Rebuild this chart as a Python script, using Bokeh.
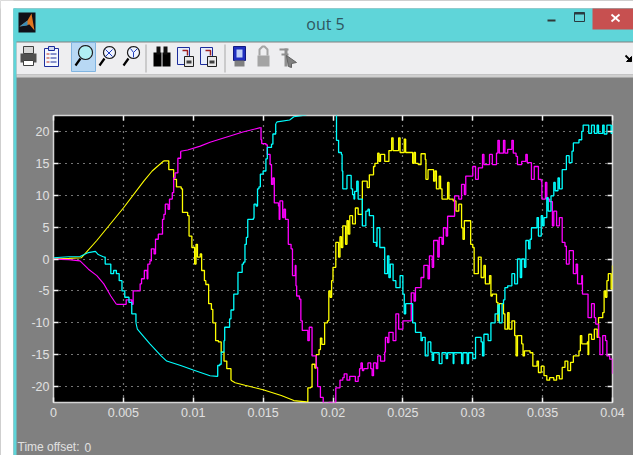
import math
from bokeh.plotting import figure
from bokeh.core.properties import value
from bokeh.models import FixedTicker, LinearAxis, Range1d
from bokeh.embed import file_html
from bokeh.resources import INLINE

# ------- data (time s, value) -------
x_ticks = [0, 0.005, 0.01, 0.015, 0.02, 0.025, 0.03, 0.035, 0.04]
x_labels = ["0", "0.005", "0.01", "0.015", "0.02", "0.025", "0.03", "0.035", "0.04"]
y_ticks = [-20, -15, -10, -5, 0, 5, 10, 15, 20]
y_labels = ["-20", "-15", "-10", "-5", "0", "5", "10", "15", "20"]

yellow_ramp = [(0,0),(.0011,.1),(.002,.2),(.0031,2.9),(.005,8),(.00646,12.2),(.00706,13.8),(.0079,15.4)]
yellow_fall = [(.0079,15.4),(.00825,14),(.0086,12.5),(.0088,11.3),(.00914,11),(.00923,7.3),(.0096,6.8),(.0097,3.6),(.0099,1.8),(.0101,-.8),(.0102,2.3),(.0103,.3),(.0105,.8),(.0106,-1.8),(.0108,-3.4),(.0109,-4),(.0111,-7),(.0113,-7.9),(.0114,-10),(.0116,-12.8),(.0118,-13),(.012,-14.6),(.0122,-16),(.0124,-17.2),(.0127,-19)]
yellow_glide = [(.0127,-19),(.013,-19.4),(.0137,-19.8),(.015,-20.5),(.0163,-21.4),(.0172,-22.2),(.0181,-22.4)]
yellow_wave = [(.0181,-22.4),(.0182,-20.2),(.0184,-20.1),(.0185,-16.5),(.0187,-17.1),(.0188,-15),(.019,-14.2),(.0191,-12.4),(.0192,-13.4),(.0194,-10),(.0196,-9.7),(.0197,-5),(.0198,-6),(.0199,-3.4),(.02,-1.3),(.0202,2.6),(.0203,2.6),(.0204,.3),(.0205,3.5),(.0206,1.8),(.0207,5.2),(.0209,2.3),(.021,6),(.0211,3.9),(.0212,6.8),(.0214,5.5),(.0216,8),(.0218,7),(.0221,12.2),(.02245,11.2),(.0226,13.2),(.0229,14.5),(.023,15),(.0232,16.6),(.0233,15.3),(.0234,16.4),(.0237,15.3),(.024,17),(.0242,19),(.0243,17),(.0247,19),(.0248,16.7),(.0251,18.8),(.0252,16.7),(.0256,16.7),(.0257,15),(.0258,16.7),(.0259,15),(.0261,14.8),(.0263,16.5),(.0266,15.6),(.02665,12.5),(.0268,14),(.0272,12.2),(.0273,13.8),(.0274,11),(.0276,13),(.0277,11),(.0278,9.4),(.0281,9.4),(.0282,12),(.0283,9.4),(.0286,9.1),(.0288,7.5),(.029,8.6),(.0292,4.9),(.0293,3.1),(.0294,6),(.0298,6),(.02985,2.3),(.03,1.8),(.0301,-2.3),(.0304,.3),(.0306,-2.9),(.0308,-1),(.0309,-3.9),(.0312,-2.6),(.0313,-5.8),(.0314,-5.5),(.0317,-6.8),(.0318,-9.7),(.0319,-7),(.0322,-8.6),(.0323,-11),(.0325,-8.4),(.0326,-11),(.0328,-9.7),(.033,-12),(.0331,-15.2),(.0332,-12),(.0335,-13.3),(.0336,-15.2),(.0337,-14.4),(.0341,-14.7),(.0343,-16.8),(.0346,-16),(.0347,-17.8),(.0349,-16.8),(.0351,-18.3),(.0353,-19),(.0355,-18.6),(.0358,-19),(.036,-18.3),(.0362,-18.8),(.0364,-17),(.0366,-16),(.0368,-17.5),(.037,-16.2),(.0372,-15.2),(.0376,-14.4),(.0377,-12),(.0378,-13.3),(.0382,-13),(.03825,-15),(.0383,-11.8),(.0385,-12.6),(.0387,-11),(.0389,-12.3),(.039,-9.2),(.0393,-8.4),(.0394,-5),(.0395,-6),(.0396,-3.4),(.0397,-2.3),(.0399,-4.7),(.04,-1)]

magenta_dip = [(0,-.02),(.0011,-.1),(.0019,-.3),(.0025,-1.6),(.0031,-2.6),(.0036,-3.9),(.0041,-5.8),(.0045,-7.1)]
magenta_rise = [(.0045,-7.1),(.0051,-7.1),(.0052,-6.4),(.0056,-7.1),(.0057,-5),(.0062,-3.9),(.0063,-3.1),(.0065,-1.8),(.0067,-3.1),(.00675,-.8),(.0069,-.3),(.007,1.6),(.0072,.8),(.0073,3.1),(.0075,3.9),(.0077,3.9),(.0078,6.2),(.0079,7),(.008,8.6),(.0082,7.8),(.0083,9.4),(.0085,10.4),(.0086,12.7),(.0087,13.5),(.0089,15.8),(.0091,16.9)]
magenta_glide = [(.0091,16.9),(.0096,17.1),(.0105,17.7),(.0112,18.3),(.01355,19.9),(.0148,20.6)]
magenta_wave = [(.0148,20.6),(.01485,18.7),(.0149,18.1),(.0152,17.9),(.0153,16.4),(.0155,14.8),(.0156,11.7),(.0157,12.7),(.0158,8.8),(.0161,8.3),(.01615,6.2),(.0162,9.1),(.0164,6.5),(.0165,7.8),(.0166,6.2),(.0167,6.2),(.0168,2.3),(.017,1.6),(.0171,-2.6),(.0173,-1),(.01735,-4.2),(.0174,-5.8),(.0176,-6.3),(.0177,-9.7),(.0178,-11.2),(.0181,-11.2),(.0182,-12.8),(.0183,-10.7),(.0185,-15.2),(.0188,-17),(.0189,-20),(.0191,-21.7),(.0193,-22.6),(.0197,-22.5),(.0201,-22.5),(.0202,-20.2),(.0205,-19),(.0207,-18.6),(.0208,-18),(.021,-19),(.0212,-18.4),(.0216,-19.2),(.0218,-18.4),(.0219,-17.2),(.022,-16.3),(.0221,-17.5),(.0222,-17.2),(.0225,-16.3),(.0227,-17.2),(.0228,-18.3),(.0229,-16.3),(.0231,-17.2),(.0232,-15.2),(.0234,-16),(.0237,-14.6),(.02375,-12.3),(.0239,-13.1),(.024,-11.5),(.0243,-12.8),(.0245,-8.6),(.0247,-11),(.025,-9.7),(.0252,-9.7),(.0256,-5.3),(.0258,-6.6),(.0259,-4.5),(.0263,-2.9),(.0265,-1),(.0268,-3.1),(.0269,.5),(.0271,-1.3),(.0272,2.9),(.0275,.3),(.0276,3.4),(.0278,2.3),(.0279,4.9),(.0281,3.6),(.0282,6.7),(.0286,6.7),(.0287,9.9),(.029,9.4),(.0292,11.7),(.0294,10.1),(.0295,13),(.0299,13),(.03,14.5),(.0302,12.5),(.0304,14.3),(.0307,16.4),(.0308,14.8),(.0312,16.4),(.0314,14.8),(.0317,16.6),(.0318,18.6),(.0319,16.6),(.0322,18.6),(.0323,16.6),(.0325,17.2),(.0328,18.6),(.0329,16.6),(.0331,16.1),(.0332,14.8),(.0335,15.3),(.0338,16.4),(.0339,15.1),(.0341,15.1),(.0342,12.5),(.0344,14.5),(.0347,12.5),(.0349,12.2),(.03495,9.4),(.0352,12),(.0353,9.4),(.0355,9),(.0357,5.2),(.0358,7.5),(.036,5.2),(.0362,6.5),(.0364,2.6),(.0366,2),(.0367,-.8),(.0369,1.3),(.0371,1.3),(.0372,-2.3),(.0374,-.8),(.0375,-3.9),(.0378,-2.6),(.03785,-5.5),(.0382,-5.5),(.03825,-9.2),(.0385,-7),(.0387,-9.2),(.0388,-10.2),(.039,-12.3),(.0391,-15),(.0393,-12),(.0395,-12.8),(.0396,-15.2),(.0398,-15.7),(.04,-18)]

cyan_bump = [(0,.2),(.0011,.35),(.0019,.4),(.0025,1),(.003,1.2),(.0032,.7),(.0036,.3)]
cyan_fall = [(.0036,.3),(.0037,-.8),(.0041,-2.3),(.0043,-1.8),(.0045,-2.3),(.0047,-3.4),(.0049,-5),(.0051,-6),(.0054,-6.8),(.0056,-8.6),(.0059,-10)]
cyan_glide = [(.0059,-10),(.006,-11),(.0065,-12.3),(.0069,-13.3),(.0077,-15.2),(.0081,-16),(.0091,-16.7),(.01,-17.4),(.0112,-18.3),(.0117,-18.4)]
cyan_rise = [(.0117,-18.4),(.01175,-16.7),(.0119,-16.5),(.012,-14.6),(.0122,-12.8),(.01225,-10.7),(.0125,-10.7),(.0126,-9.4),(.0127,-8),(.0129,-5.5),(.0131,-5.5),(.0132,-2.1),(.0134,-2.1),(.0135,-.8),(.0136,-.5),(.0137,2.3),(.0138,3.4),(.0139,6.2),(.0143,6.4),(.01435,8.6),(.0145,8.3),(.0146,11),(.0147,11.3),(.0148,13.3),(.015,13.8),(.0152,15.7),(.0153,17.5),(.0156,18),(.0157,19.6),(.0159,21.2)]
cyan_top = [(.0159,21.2),(.016,21.5),(.0169,21.8),(.0172,22.3),(.0181,22.6)]
cyan_wave = [(.0202,23),(.02025,18.6),(.0204,16.7),(.0206,16.4),(.02065,13.8),(.0207,11),(.0209,11),(.021,13.1),(.0212,13.1),(.0213,11),(.0214,10.1),(.0215,9.4),(.02155,10.6),(.0217,12.2),(.0218,9.4),(.022,9.4),(.0221,5.2),(.0223,5.2),(.02235,7.5),(.0225,7.8),(.0226,6.8),(.0228,6.8),(.0229,2.6),(.0231,2),(.02315,4.9),(.0233,4.9),(.02335,1.8),(.0236,1.8),(.0237,-2.3),(.0239,.5),(.024,-2.9),(.0241,-.8),(.0243,-3.4),(.0245,-4.5),(.0248,-2.6),(.025,-5.5),(.0251,-8.6),(.0252,-7),(.0256,-7),(.0257,-10),(.0259,-11.5),(.0261,-11.5),(.0263,-12.8),(.0264,-12.3),(.0266,-15.2),(.0268,-13),(.027,-14.6),(.0271,-15.9),(.0272,-14.7),(.0276,-16.4),(.0278,-14.7),(.0281,-15.6),(.0282,-14.7),(.0286,-16.4),(.02865,-14.7),(.0292,-16.4),(.0293,-14.7),(.0296,-16.4),(.0297,-14.7),(.03,-15.6),(.0302,-12.3),(.0306,-13),(.0307,-15.2),(.0308,-11.8),(.0311,-12.8),(.0313,-10),(.0316,-8.6),(.0318,-7.2),(.0319,-10),(.0321,-7),(.0322,-6.4),(.0323,-4.5),(.0325,-4.2),(.0328,-2.3),(.033,-3.9),(.0332,0),(.0334,-2.9),(.0335,0),(.0337,-1.3),(.0338,2.9),(.034,1.6),(.0341,3.1),(.0342,4.9),(.0346,6.5),(.0347,3.6),(.0349,6.8),(.035,5.2),(.0351,6.5),(.0353,9.6),(.0354,7.5),(.0356,9.9),(.0358,12),(.0359,10.7),(.0361,12.7),(.0362,11),(.0364,14),(.0366,14),(.0367,16.2),(.0369,15.1),(.0371,16.9),(.0372,18.2),(.0376,18.7),(.0378,20),(.0379,21),(.0382,21),(.0383,19.7),(.0385,21),(.0387,19.7),(.0389,21),(.039,19.7),(.0393,21),(.0394,19.6),(.0396,21),(.0399,19.7),(.04,21)]

YELLOW, MAGENTA, CYAN = "#ffff00", "#ff00ff", "#00ffff"
GRAY = "#808080"
TEAL = "#5fd5d9"
TICK_FONT = "Liberation Sans"
PLACE = {"position": "absolute", "left": "0px", "top": "0px"}

p = figure(width=633, height=455, output_backend="svg", toolbar_location=None,
           x_range=Range1d(0, 0.04), y_range=Range1d(-22.5, 22.5),
           min_border_left=53, min_border_right=21, min_border_top=115, min_border_bottom=53,
           background_fill_color="black", border_fill_color=None,
           outline_line_color="#d4d4d4", outline_line_width=1.5)
p.styles = PLACE


def style_axis(ax, ticks, labels=None):
    ax.ticker = FixedTicker(ticks=ticks)
    ax.major_tick_in = 5
    ax.major_tick_out = 0
    ax.minor_tick_line_color = None
    ax.axis_line_color = None
    ax.major_tick_line_color = "#f0f0f0"
    ax.major_tick_line_width = 1.5
    if labels:
        ax.major_label_overrides = dict(zip(ticks, labels))
        ax.major_label_text_color = "#e0e0e0"
        ax.major_label_text_font = TICK_FONT
        ax.major_label_text_font_size = "12.5px"
    else:
        ax.major_label_text_font_size = "0px"
        ax.major_label_text_color = None


style_axis(p.xaxis[0], x_ticks, x_labels)
style_axis(p.yaxis[0], y_ticks, y_labels)
p.xaxis[0].major_label_standoff = 5
p.yaxis[0].major_label_standoff = 4
p.add_layout(style_ax := LinearAxis(), "above")
style_axis(style_ax, x_ticks)
p.add_layout(style_ay := LinearAxis(), "right")
style_axis(style_ay, y_ticks)
for g in (p.xgrid[0], p.ygrid[0]):
    g.grid_line_color = "#e8e8e8"
    g.grid_line_dash = "1 5"
    g.grid_line_width = 1.2
p.xgrid[0].ticker = FixedTicker(ticks=x_ticks)
p.ygrid[0].ticker = FixedTicker(ticks=y_ticks)


def draw(points, color, stairs):
    xs = [a for a, _ in points]
    ys = [b for _, b in points]
    if stairs:
        p.step(xs, ys, mode="after", line_color=color, line_width=1.3)
    else:
        p.line(xs, ys, line_color=color, line_width=1.1)


for pts, st in [(yellow_ramp, False), (yellow_fall, True), (yellow_glide, False), (yellow_wave, True)]:
    draw(pts, YELLOW, st)
for pts, st in [(magenta_dip, False), (magenta_rise, True), (magenta_glide, False), (magenta_wave, True)]:
    draw(pts, MAGENTA, st)
for pts, st in [(cyan_bump, False), (cyan_fall, True), (cyan_glide, False), (cyan_rise, True), (cyan_top, False), (cyan_wave, True)]:
    draw(pts, CYAN, st)

# ------- window chrome: a figure underneath, in page pixel coordinates -------
win = figure(width=633, height=455, output_backend="svg", toolbar_location=None,
             x_range=Range1d(0, 633), y_range=Range1d(455, 0),
             x_axis_type=None, y_axis_type=None,
             min_border=0, min_border_left=0, min_border_right=0, min_border_top=0, min_border_bottom=0,
             background_fill_color=GRAY, border_fill_color=GRAY, outline_line_color=None)
win.grid.visible = False
win.styles = PLACE


def box(l, t, r, b, fill, line=None):
    win.quad(left=[l], right=[r], top=[t], bottom=[b], fill_color=fill, line_color=line)


def poly(pts, fill=None, line=None, width=1.0):
    xs = [a for a, _ in pts]
    ys = [b for _, b in pts]
    if fill:
        win.patch(xs, ys, fill_color=fill, line_color=line, line_width=width)
    else:
        win.line(xs, ys, line_color=line, line_width=width)


def circle(cx, cy, r, fill, line, width=1.2):
    poly([(cx + r * math.cos(i * math.pi / 10), cy + r * math.sin(i * math.pi / 10)) for i in range(20)],
         fill, line, width)


def text(x, y, s, size, color, font, align="left"):
    win.text(x=[x], y=[y], text=[s], text_font=value(font), text_font_size=value(size),
             text_color=color, text_align=align, text_baseline="middle")


box(0, 0, 633, 8, "#ffffff")
box(0, 0, 13, 455, "#ffffff")
box(13, 8, 16, 455, TEAL)
box(13, 8, 633, 41, TEAL)
box(16, 42, 633, 74, "#eeeef0")
box(16, 74, 633, 77, "#cfcfcf")
box(592, 8, 633, 29, "#c75050")
# app icon
box(18, 12, 35, 32, "#101018")
poly([(19, 26), (27, 20), (31, 13), (34, 30), (29, 24)], "#e07820")
poly([(19, 26), (27, 20), (27, 25)], "#3a8cb8")
text(325, 23, "out 5", "16px", "#2f5560", "Open Sans", "center")
box(547, 19, 555, 21, "#303838")
box(574, 12, 584, 21, None, "#2a3a40")
box(574, 12, 584, 14, "#2a3a40")
poly([(611, 14), (619, 21)], None, "#ffffff", 1.8)
poly([(619, 14), (611, 21)], None, "#ffffff", 1.8)
# toolbar icons
box(20, 53, 36, 62, "#505050")
box(23, 46, 33, 53, "#d8d8d8", "#404040")
box(23, 60, 33, 65, "#ffffff", "#404040")
box(44, 48, 58, 66, "#f4f8ff", "#1c2c9c")
box(48, 46, 54, 50, "#d0d8f0", "#1c2c9c")
for yy in (53, 57, 61):
    box(46, yy, 49, yy + 1, "#c03020")
    box(50, yy, 56, yy + 1, "#1c2c9c")
box(71, 42, 95, 71, "#b8d8f4", "#80b4e0")
for cx, fill, r in [(84, "#b0f0f4", 7), (108, "#f0f4ff", 6), (132, "#f0f4ff", 6)]:
    circle(cx + 1, 52, r, fill, "#202020")
    poly([(cx - 9, 65), (cx - 4, 58)], None, "#000000", 2.2)
poly([(105, 49), (112, 56)], None, "#2040c0", 1)
poly([(112, 49), (105, 56)], None, "#2040c0", 1)
poly([(130, 48), (133, 52), (137, 48)], None, "#2040c0", 1)
poly([(133, 52), (133, 57)], None, "#2040c0", 1)
box(145, 44, 146, 72, "#a8a8a8")
box(153, 52, 161, 66, "#000000")
box(162, 52, 170, 66, "#000000")
box(156, 46, 160, 54, "#101010")
box(163, 46, 167, 54, "#101010")
box(224, 44, 225, 72, "#a8a8a8")
for lft in (177, 200):
    box(lft, 47, lft + 12, 64, "#e8eefc", "#1c2c9c")
    box(lft + 7, 56, lft + 16, 66, "#e8e8e8", "#202020")
    box(lft + 9, 60, lft + 14, 63, "#404040")
    poly([(lft + 5, 50), (lft + 10, 50), (lft + 10, 55)], None, "#a02020", 1.5)
box(233, 46, 245, 60, "#2030c0", "#101880")
box(236, 49, 242, 57, "#c0d0f8")
box(234, 60, 244, 66, "#808080")
box(257, 55, 269, 66, "#a4a4a4")
poly([(259, 55), (259, 49), (262, 46), (264, 46), (267, 49), (267, 55)], None, "#a4a4a4", 2)
box(279, 48, 288, 50, "#909090")
box(281, 53, 288, 55, "#909090")
box(284, 48, 287, 66, "#909090")
poly([(286, 55), (296, 62), (291, 63), (291, 67), (288, 66)], "#808080", "#606060")
poly([(625, 55), (631, 61)], None, "#000000", 1.8)
poly([(631, 56), (631, 61), (626, 61)], "#000000", "#000000")
text(17, 446.5, "Time offset:", "12px", "#e0e0e0", TICK_FONT)
text(84, 446.5, "0", "12px", "#e0e0e0", TICK_FONT)

open("out.html", "w").write(file_html([win, p], INLINE))
